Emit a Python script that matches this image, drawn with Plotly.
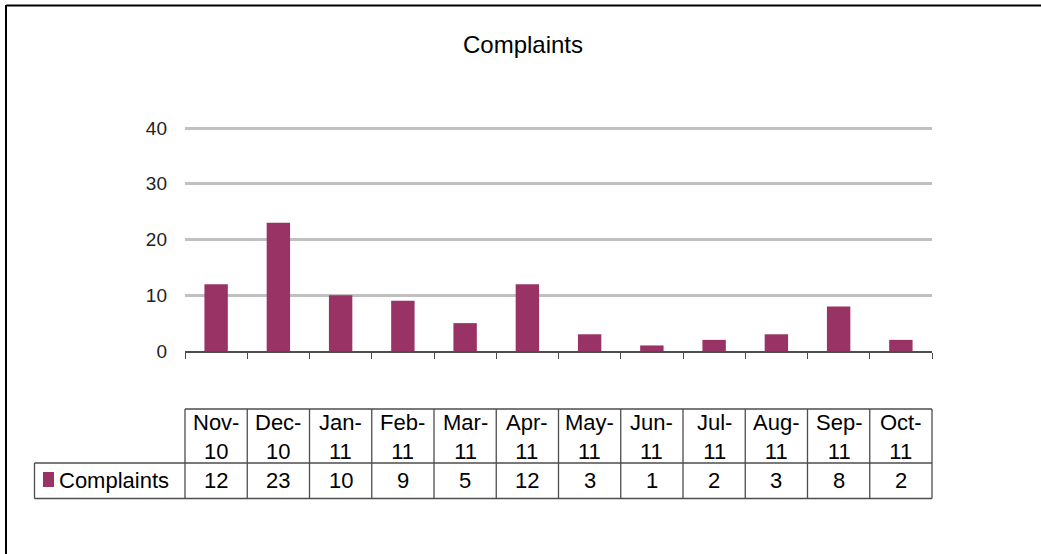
import plotly.graph_objects as go

# ---- data ----
months = ["Nov-10", "Dec-10", "Jan-11", "Feb-11", "Mar-11", "Apr-11",
          "May-11", "Jun-11", "Jul-11", "Aug-11", "Sep-11", "Oct-11"]
complaints = [12, 23, 10, 9, 5, 12, 3, 1, 2, 3, 8, 2]
series_name = "Complaints"
y_ticks = [0, 10, 20, 30, 40]

# ---- style ----
W, H = 1041, 554
L, R, T, B = 185, 932, 127, 351
YMAX = 40.2
BAR = "#993366"
LINE = "#4d4d4d"
FONT = "Liberation Sans, Arial, sans-serif"

def px_to_py(py):
    return (B - py) / (B - T)

def px_to_px(px):
    return (px - L) / (R - L)

n = len(months)
xmin, xmax = -0.5, n - 0.5

fig = go.Figure()
fig.add_trace(go.Bar(x=months, y=complaints, name=series_name,
                     marker=dict(color=BAR, line=dict(width=0)),
                     hoverinfo="x+y"))

shapes = []
annotations = []

# table geometry (pixels)
t_top, t_mid, t_bot = 409, 463, 498.5
leg_left = 34.5

def hline(y, x0, x1):
    shapes.append(dict(type="line", xref="paper", yref="paper",
                       x0=x0, x1=x1, y0=px_to_py(y), y1=px_to_py(y),
                       line=dict(color=LINE, width=1.3)))

def vline(x, y0, y1):
    shapes.append(dict(type="line", xref="paper", yref="paper",
                       x0=x, x1=x, y0=px_to_py(y0), y1=px_to_py(y1),
                       line=dict(color=LINE, width=1.3)))

hline(t_top, 0, 1)
hline(t_mid, px_to_px(leg_left), 1)
hline(t_bot, px_to_px(leg_left), 1)
for k in range(n + 1):
    vline(k / n, t_top, t_bot)
vline(px_to_px(leg_left), t_mid, t_bot)

TFS = 22
# table text via category axis
for m, v in zip(months, complaints):
    a, b = m.split("-")
    annotations.append(dict(xref="x", yref="paper", x=m, y=px_to_py((t_top + t_mid) / 2 + 1),
                            text=f"{a}-<br>{b}", showarrow=False,
                            font=dict(family=FONT, size=TFS, color="#000"),
                            yanchor="middle", xanchor="center"))
    annotations.append(dict(xref="x", yref="paper", x=m, y=px_to_py((t_mid + t_bot) / 2),
                            text=str(v), showarrow=False,
                            font=dict(family=FONT, size=TFS, color="#000"),
                            yanchor="middle", xanchor="center"))

# legend key in table
shapes.append(dict(type="rect", xref="paper", yref="paper",
                   x0=px_to_px(43), x1=px_to_px(54),
                   y0=px_to_py(487), y1=px_to_py(472),
                   fillcolor=BAR, line=dict(width=0)))
annotations.append(dict(xref="paper", yref="paper", x=px_to_px(57), y=px_to_py((t_mid + t_bot) / 2),
                        text=series_name, showarrow=False, xanchor="left", yanchor="middle",
                        font=dict(family=FONT, size=TFS, color="#000")))

# outer chart border (top and left visible)
shapes.append(dict(type="line", xref="paper", yref="paper",
                   x0=px_to_px(6), x1=px_to_px(W + 5), y0=px_to_py(5.5), y1=px_to_py(5.5),
                   line=dict(color="#000", width=2)))
shapes.append(dict(type="line", xref="paper", yref="paper",
                   x0=px_to_px(6), x1=px_to_px(6), y0=px_to_py(5), y1=px_to_py(H + 5),
                   line=dict(color="#000", width=2)))

fig.update_layout(
    width=W, height=H,
    margin=dict(l=L, r=W - R, t=T, b=H - B, pad=0),
    paper_bgcolor="white", plot_bgcolor="white",
    showlegend=False,
    bargap=0.624,
    title=dict(text="Complaints", xref="container", yref="container",
               x=523 / W, y=1 - 45 / H, xanchor="center", yanchor="middle",
               font=dict(family=FONT, size=24, color="#000")),
    font=dict(family=FONT),
    xaxis=dict(range=[xmin, xmax], showticklabels=False,
               showline=True, linecolor=LINE, linewidth=1.5,
               ticks="outside", tickson="boundaries", ticklen=6,
               tickcolor=LINE, tickwidth=1.3, showgrid=False, fixedrange=True),
    yaxis=dict(range=[0, YMAX], tickvals=y_ticks, showgrid=True,
               gridcolor="#c0c0c0", gridwidth=2.5, zeroline=False,
               showline=False, ticks="", ticklabelstandoff=17,
               tickfont=dict(family=FONT, size=19, color="#222"),
               fixedrange=True),
    shapes=shapes,
    annotations=annotations,
)

fig.write_html("out.html", config={"displayModeBar": False},
               post_script="document.body.style.margin='0';document.body.style.overflow='hidden';")
